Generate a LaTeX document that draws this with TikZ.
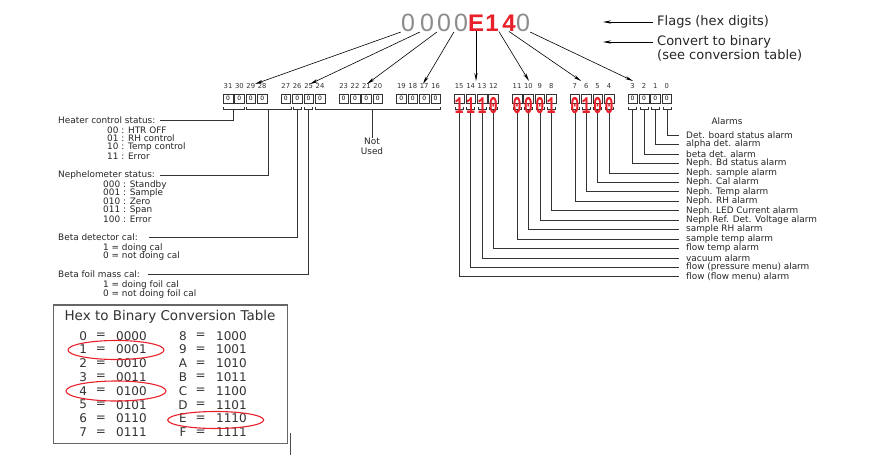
\documentclass[tikz,border=0pt]{standalone}
\usepackage{graphicx}
\usepackage{fontspec}
\setmainfont{DejaVu Sans}
\newfontfamily\monof{Liberation Mono}
\newfontfamily\arialf{Liberation Sans}
\usetikzlibrary{arrows.meta,calc}
\definecolor{hred}{HTML}{E8202A}
\begin{document}
\begin{tikzpicture}[x=1pt,y=-1pt,
  ln/.style={draw=black!80,line width=0.55pt},
  arr/.style={draw=black,line width=0.6pt,-{Stealth[length=8pt,width=3.2pt]}},
  bitbox/.style={draw=black!80,line width=0.5pt,minimum width=9.6pt,minimum height=9pt,inner sep=0pt,font=\fontsize{6}{6}\selectfont},
  bitnum/.style={inner sep=0pt,font=\fontsize{6.8}{7}\selectfont,text=black!80},
  lbl/.style={inner sep=0pt,anchor=west,font=\fontsize{8.9}{9.5}\selectfont,text=black!85},
  flg/.style={inner sep=0pt,anchor=west,font=\fontsize{13}{13}\selectfont,text=black!85},
  hexg/.style={inner sep=0pt,font=\arialf\fontsize{25}{25}\selectfont,text=black!45},
  hexr/.style={inner sep=0pt,font=\arialf\bfseries\fontsize{24}{24}\selectfont,text=hred},
  binr/.style={inner sep=0pt,font=\monof\bfseries\fontsize{15}{15}\selectfont,text=hred},
  tbl/.style={inner sep=0pt,font=\fontsize{12}{12}\selectfont,text=black!80},
  oval/.style={draw=hred,line width=1.1pt}
]
\useasboundingbox[fill=white] (0,0) rectangle (870,474);

% top hex digits
\node[hexg] (d7) at (408,23) {0};
\node[hexg] (d6) at (427,23) {0};
\node[hexg] (d5) at (444,23) {0};
\node[hexg] (d4) at (461,23) {0};
\node[hexr] (d3) at (476,23) {E};
\node[hexr] (d2) at (492,23) {1};
\node[hexr] (d1) at (509,23) {4};
\node[hexg] (d0) at (523,23) {0};

% flags text
\node[flg] (flags) at (657,22) {Flags (hex digits)};
\node[flg] (conv1) at (657,42) {Convert to binary};
\node[flg] (conv2) at (657,55) {(see conversion table)};
\coordinate (fa) at (603,22);
\coordinate (fb) at (603,42);
\draw[arr] ([xshift=-4pt]flags.west) -- (fa);
\draw[arr] ([xshift=-4pt]conv1.west) -- (fb);

% bit boxes
\foreach \g in {0,...,7}{
  \foreach \j in {0,...,3}{
    \pgfmathtruncatemacro\b{31-4*\g-\j}
    \pgfmathsetmacro\x{228+57.8*\g+11.4*\j}
    \ifnum\g<4 \def\bc{0}\else\ifnum\g=7 \def\bc{0}\else\def\bc{}\fi\fi
    \node[bitbox] (box\b) at (\x,98.3) {\bc};
    \node[bitnum] (num\b) at (\x,86) {\b};
    \coordinate (bt\b) at (\x,109);
  }
}

% arrows from hex digits
\coordinate (t7) at (255,84);
\coordinate (t6) at (310,84);
\coordinate (t5) at (367,84);
\coordinate (t4) at (423,84);
\coordinate (t3) at (476,81);
\coordinate (t2) at (529,81);
\coordinate (t1) at (581,81);
\coordinate (t0) at (633,81);
\draw[arr] (d7.south west) -- (t7);
\draw[arr] (d6.south west) -- (t6);
\draw[arr] (d5.south west) -- (t5);
\draw[arr] (d4.south west) -- (t4);
\draw[arr] (d3.south) -- (t3);
\draw[arr] (d2.south east) -- (t2);
\draw[arr] (d1.south) -- (t1);
\draw[arr] (d0.south east) -- (t0);

% brackets
\draw[ln] ([shift={(-5,-2)}]bt31) -- ([xshift=-5pt]bt31) -- ([xshift=5pt]bt30) -- ([shift={(5,-2)}]bt30);
\draw[ln] ([shift={(-5,-2)}]bt29) -- ([xshift=-5pt]bt29) -- ([xshift=5pt]bt27) -- ([shift={(5,-2)}]bt27);
\draw[ln] ([shift={(-5,-2)}]bt24) -- ([xshift=-5pt]bt24) -- ([xshift=5pt]bt16) -- ([shift={(5,-2)}]bt16);
\foreach \b in {26,25}{
  \draw[ln] ([shift={(-4,-2)}]bt\b) -- ([xshift=-4pt]bt\b) -- ([xshift=4pt]bt\b) -- ([shift={(4,-2)}]bt\b);
}
\foreach \b in {0,...,15}{
  \draw[ln] ([shift={(-4,-2)}]bt\b) -- ([xshift=-4pt]bt\b) -- ([xshift=4pt]bt\b) -- ([shift={(4,-2)}]bt\b);
}

% left labels
\node[lbl] (heat) at (58,120) {Heater control status:};
\node[lbl] (h0) at (107,130) {00 : HTR OFF};
\node[lbl] (h1) at (107,138.5) {01 : RH control};
\node[lbl] (h2) at (107,147) {10 : Temp control};
\node[lbl] (h3) at (107,156) {11 : Error};
\node[lbl] (neph) at (58,175) {Nephelometer status:};
\node[lbl] (n0) at (103,185) {000 : Standby};
\node[lbl] (n1) at (103,193) {001 : Sample};
\node[lbl] (n2) at (103,201.5) {010 : Zero};
\node[lbl] (n3) at (103,210) {011 : Span};
\node[lbl] (n4) at (103,219) {100 : Error};
\node[lbl] (betad) at (58,237) {Beta detector cal:};
\node[lbl] (b1) at (103,248) {1 = doing cal};
\node[lbl] (b0) at (103,256.5) {0 = not doing cal};
\node[lbl] (betaf) at (58,274.5) {Beta foil mass cal:};
\node[lbl] (f1) at (103,285.5) {1 = doing foil cal};
\node[lbl] (f0) at (103,294.5) {0 = not doing foil cal};
\node[lbl,anchor=north,align=center] (notused) at (372,138) {Not\\Used};

\draw[ln] ($(bt31)!0.5!(bt30)$) |- ([xshift=4pt]heat.east);
\draw[ln] ($(bt29)!0.5!(bt27)$) |- ([xshift=5pt]neph.east);
\draw[ln] (bt26) |- ([xshift=11pt]betad.east);
\draw[ln] (bt25) |- ([xshift=8pt]betaf.east);
\draw[ln] (notused.north |- bt24) -- (notused.north);

% alarms
\node[lbl,anchor=center] (alarms) at (727,121) {Alarms};
\foreach \i/\t in {0/Det. board status alarm,1/alpha det. alarm,2/beta det. alarm,3/Neph. Bd status alarm,4/Neph. sample alarm,5/Neph. Cal alarm,6/Neph. Temp alarm,7/Neph. RH alarm,8/Neph. LED Current alarm,9/Neph Ref. Det. Voltage alarm,10/sample RH alarm,11/sample temp alarm,12/flow temp alarm,13/vacuum alarm,14/flow (pressure menu) alarm,15/flow (flow menu) alarm}{
  \node[lbl] (al\i) at (686,{135+9.45*\i}) {\t};
  \draw[ln] (bt\i) |- ([xshift=-7pt]al\i.west);
}

% red binary digits
\foreach \b/\v in {15/1,14/1,13/1,12/0,11/0,10/0,9/0,8/1,7/0,6/1,5/0,4/0}{
  \node[binr] (r\b) at ($(bt\b)+(0,-3)$) {\scalebox{1}[1.6]{\v}};
}

% conversion table
\node[draw=black!60,line width=1.2pt,minimum width=234pt,minimum height=138.4pt,anchor=north west,inner sep=0pt] (tbox) at (52.7,304.3) {};
\node[tbl,font=\fontsize{13.5}{14}\selectfont] (ttl) at (170,316.7) {Hex to Binary Conversion Table};
\foreach \h/\bn [count=\k from 0] in {0/0000,1/0001,2/0010,3/0011,4/0100,5/0101,6/0110,7/0111}{
  \node[tbl] (lh\k) at (83.3,{335.7+13.8*\k}) {\h};
  \node[tbl] (le\k) at (101,{335.7+13.8*\k}) {=};
  \node[tbl,anchor=west] (lb\k) at (116,{335.7+13.8*\k}) {\bn};
}
\foreach \h/\bn [count=\k from 0] in {8/1000,9/1001,A/1010,B/1011,C/1100,D/1101,E/1110,F/1111}{
  \node[tbl] (rh\k) at (183,{335.7+13.8*\k}) {\h};
  \node[tbl] (re\k) at (200.7,{335.7+13.8*\k}) {=};
  \node[tbl,anchor=west] (rb\k) at (216,{335.7+13.8*\k}) {\bn};
}
\draw[oval] (116,350) ellipse [x radius=48, y radius=9.5];
\draw[oval] (116,391) ellipse [x radius=50, y radius=10];
\draw[oval] (215.7,420) ellipse [x radius=48, y radius=8.5];
\draw[draw=black!70,line width=0.8pt] (290.7,433) -- (290.7,455);
\end{tikzpicture}
\end{document}
